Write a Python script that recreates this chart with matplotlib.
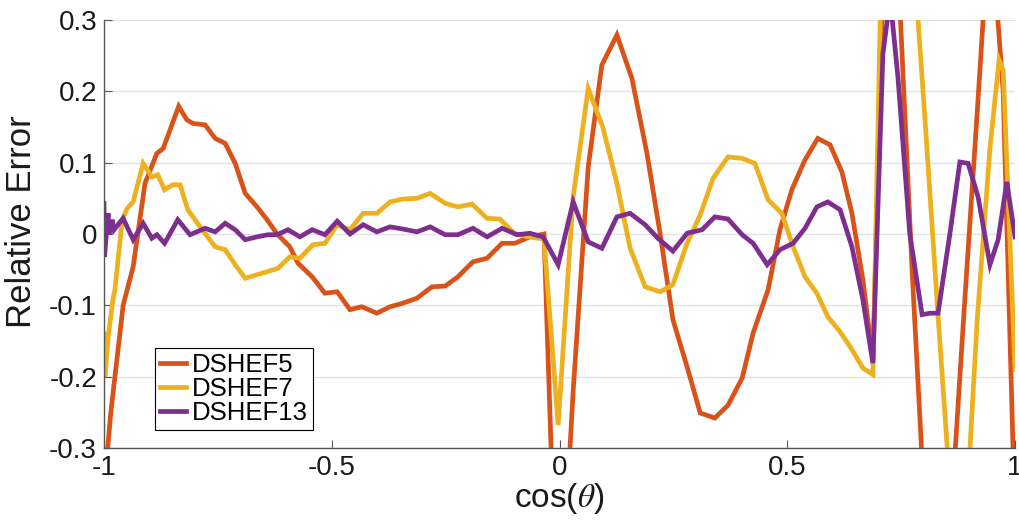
import numpy as np
import matplotlib as mpl
mpl.use('Agg')
import matplotlib.pyplot as plt

# values
x5 = [-1.0, -0.985, -0.958, -0.936, -0.910, -0.884, -0.870, -0.836, -0.818, -0.805,
      -0.778, -0.756, -0.734, -0.712, -0.690, -0.664, -0.642, -0.620, -0.592, -0.574,
      -0.543, -0.515, -0.488, -0.460, -0.434, -0.401, -0.372, -0.344, -0.313, -0.280,
      -0.251, -0.223, -0.190, -0.159, -0.126, -0.098, -0.065, -0.034, -0.003, 0.030,
      0.063, 0.093, 0.126, 0.159, 0.192, 0.221, 0.249, 0.280, 0.309, 0.341,
      0.370, 0.401, 0.425, 0.458, 0.484, 0.510, 0.539, 0.567, 0.594, 0.620,
      0.642, 0.666, 0.688, 0.717, 0.745, 0.774, 0.803, 0.831, 0.860, 0.888,
      0.917, 0.945, 0.974, 1.0]
y5 = [-0.36, -0.25, -0.10, -0.046, 0.071, 0.113, 0.120, 0.179, 0.160, 0.155,
      0.153, 0.134, 0.127, 0.099, 0.057, 0.038, 0.020, 0.000, -0.018, -0.041,
      -0.060, -0.083, -0.081, -0.106, -0.102, -0.111, -0.102, -0.097, -0.090, -0.074,
      -0.073, -0.060, -0.039, -0.034, -0.013, -0.013, -0.004, 0.000, -0.60, -0.22,
      0.094, 0.237, 0.279, 0.218, 0.113, 0.000, -0.120, -0.186, -0.251, -0.258,
      -0.240, -0.202, -0.139, -0.078, 0.006, 0.062, 0.104, 0.134, 0.125, 0.087,
      0.029, -0.064, -0.176, 0.50, 0.35, -0.05, -0.40, -0.55, -0.39, -0.11,
      0.17, 0.45, 0.20, -0.40]

x7 = [-1.0, -0.998, -0.990, -0.980, -0.976, -0.960, -0.949, -0.936, -0.914, -0.895,
      -0.882, -0.867, -0.849, -0.833, -0.816, -0.789, -0.756, -0.734, -0.712, -0.690,
      -0.664, -0.642, -0.618, -0.592, -0.570, -0.541, -0.515, -0.488, -0.460, -0.431,
      -0.401, -0.372, -0.344, -0.313, -0.284, -0.251, -0.223, -0.192, -0.159, -0.131,
      -0.098, -0.069, -0.034, -0.003, 0.030, 0.063, 0.095, 0.126, 0.155, 0.188,
      0.221, 0.249, 0.280, 0.309, 0.337, 0.370, 0.401, 0.429, 0.458, 0.488,
      0.513, 0.539, 0.565, 0.589, 0.616, 0.642, 0.666, 0.688, 0.717, 0.745,
      0.774, 0.803, 0.831, 0.860, 0.888, 0.917, 0.945, 0.965, 0.974, 1.0]
y7 = [-0.14, -0.20, -0.14, -0.09, -0.078, 0.020, 0.036, 0.045, 0.099, 0.080,
      0.083, 0.062, 0.069, 0.069, 0.034, 0.010, -0.018, -0.022, -0.043, -0.062,
      -0.057, -0.053, -0.048, -0.032, -0.034, -0.015, -0.013, 0.013, 0.006, 0.029,
      0.029, 0.045, 0.049, 0.050, 0.057, 0.043, 0.038, 0.042, 0.022, 0.021,
      0.000, -0.004, -0.007, -0.268, 0.052, 0.204, 0.150, 0.071, -0.020, -0.074,
      -0.081, -0.071, -0.013, 0.027, 0.078, 0.108, 0.106, 0.099, 0.048, 0.029,
      -0.018, -0.060, -0.083, -0.116, -0.137, -0.162, -0.188, -0.197, 0.70, 0.75,
      0.42, 0.155, -0.114, -0.38, -0.45, -0.12, 0.12, 0.244, 0.230, -0.19]

x13 = [-1.0, -0.999, -0.991, -0.989, -0.982, -0.978, -0.958, -0.936, -0.914, -0.895,
       -0.884, -0.867, -0.838, -0.811, -0.778, -0.756, -0.734, -0.712, -0.690, -0.664,
       -0.640, -0.620, -0.596, -0.570, -0.543, -0.515, -0.488, -0.460, -0.431, -0.401,
       -0.372, -0.344, -0.313, -0.284, -0.251, -0.223, -0.190, -0.159, -0.126, -0.093,
       -0.065, -0.036, -0.003, 0.030, 0.063, 0.093, 0.126, 0.155, 0.188, 0.216,
       0.249, 0.280, 0.313, 0.341, 0.370, 0.401, 0.425, 0.456, 0.484, 0.513,
       0.539, 0.565, 0.589, 0.616, 0.642, 0.666, 0.688, 0.710, 0.726, 0.743,
       0.769, 0.796, 0.814, 0.831, 0.857, 0.879, 0.897, 0.919, 0.945, 0.963,
       0.982, 1.0]
y13 = [0.043, -0.032, 0.029, 0.000, 0.020, 0.006, 0.022, -0.008, 0.015, -0.006,
       -0.001, -0.013, 0.020, -0.001, 0.008, 0.003, 0.015, 0.006, -0.008, -0.004,
       -0.001, -0.001, 0.006, -0.004, 0.006, -0.001, 0.018, 0.000, 0.013, 0.003,
       0.010, 0.007, 0.003, 0.010, -0.001, -0.001, 0.008, -0.004, 0.008, -0.001,
       0.001, -0.004, -0.043, 0.045, -0.011, -0.020, 0.024, 0.029, 0.013, -0.006,
       -0.024, 0.001, 0.006, 0.024, 0.021, -0.001, -0.013, -0.043, -0.022, -0.013,
       0.008, 0.038, 0.045, 0.034, -0.018, -0.092, -0.181, 0.253, 0.33, 0.220,
       0.000, -0.113, -0.111, -0.111, 0.000, 0.101, 0.099, 0.052, -0.043, -0.008,
       0.073, -0.004]

labels = ['DSHEF5', 'DSHEF7', 'DSHEF13']
colors = ['#D95319', '#EDB120', '#7E2F8E']

plt.rcParams['font.family'] = ['Liberation Sans', 'DejaVu Sans']
plt.rcParams['mathtext.fontset'] = 'stix'
plt.rcParams['axes.unicode_minus'] = False

fig = plt.figure(figsize=(10.19, 5.24), dpi=100)
ax = fig.add_axes([104 / 1019, 76 / 524, 911 / 1019, 428 / 524])

for xs, ys, lab, c in zip([x5, x7, x13], [y5, y7, y13], labels, colors):
    ax.plot(xs, ys, color=c, lw=3.4, label=lab, solid_joinstyle='miter')

ax.set_xlim(-1, 1)
ax.set_ylim(-0.3, 0.3)
ax.set_xticks([-1, -0.5, 0, 0.5, 1])
ax.set_xticklabels(['-1', '-0.5', '0', '0.5', '1'])
ax.set_yticks([-0.3, -0.2, -0.1, 0, 0.1, 0.2, 0.3])
ax.set_yticklabels(['-0.3', '-0.2', '-0.1', '0', '0.1', '0.2', '0.3'])
ax.yaxis.grid(True, color='#e3e3e3', lw=1.0)
ax.set_axisbelow(True)
for s in ['top', 'right']:
    ax.spines[s].set_visible(False)
for s in ['left', 'bottom']:
    ax.spines[s].set_color('#555555')
    ax.spines[s].set_linewidth(1.0)
ax.tick_params(direction='in', length=6, width=0.8, color='#555555',
               labelsize=20, pad=5, labelcolor='#1a1a1a')
ax.set_xlabel(r'cos($\theta$)', fontsize=24, labelpad=0, color='#1a1a1a')
ax.set_ylabel('Relative Error', fontsize=25, color='#1a1a1a')
ax.yaxis.set_label_coords(-0.072, 0.53)

leg = ax.legend(loc='lower left', bbox_to_anchor=(0.056, 0.042), borderaxespad=0,
                fontsize=18.5, fancybox=False, framealpha=1, edgecolor='black',
                handlelength=1.0, handletextpad=0.25, labelspacing=0.0,
                borderpad=0.2)
leg.get_frame().set_linewidth(0.8)

fig.savefig('out.png', dpi=100)
